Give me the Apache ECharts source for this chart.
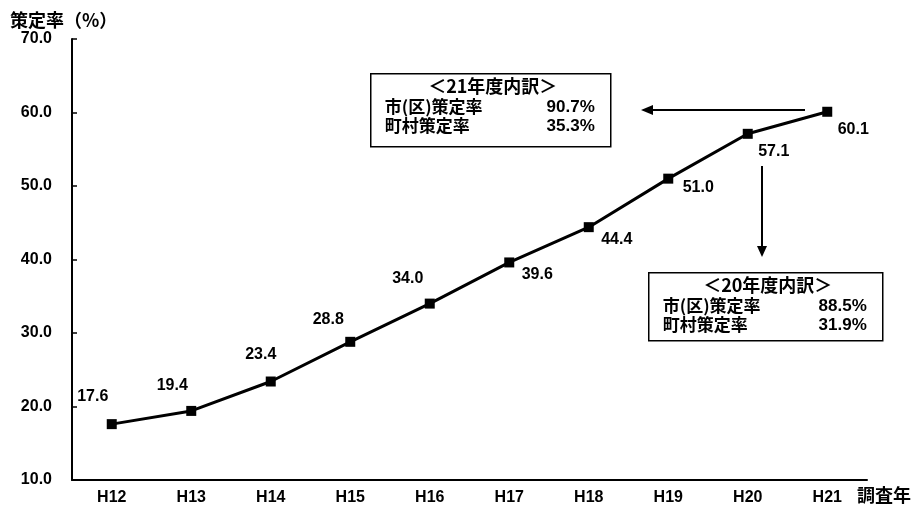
<!DOCTYPE html>
<html><head><meta charset="utf-8">
<script src="https://cdn.jsdelivr.net/npm/echarts@6/dist/echarts.min.js"></script>
<style>html,body{margin:0;padding:0;background:#fff}#c{width:918px;height:515px}</style>
</head><body><div id="c"></div>
<script>
const categories = ['H12','H13','H14','H15','H16','H17','H18','H19','H20','H21'];
const rates = [17.6, 19.4, 23.4, 28.8, 34.0, 39.6, 44.4, 51.0, 57.1, 60.1];
const yTicks = [10, 20, 30, 40, 50, 60, 70];
const box21 = {title:'＜21年度内訳＞', rows:[['市(区)策定率','90.7%'],['町村策定率','35.3%']]};
const box20 = {title:'＜20年度内訳＞', rows:[['市(区)策定率','88.5%'],['町村策定率','31.9%']]};

const FONT = '"Liberation Sans", Arial, "Noto Sans CJK JP", sans-serif';
const JFONT = '"Noto Sans CJK JP", "Liberation Sans", sans-serif';
// label offsets (style only), per point
const labelOffsets = [[-19,-28],[-19,-25],[-10,-27],[-22,-22],[-22,-25],[28,12],[28,12],[30,9],[26,18],[26,18]];

const chart = echarts.init(document.getElementById('c'), null, {renderer:'canvas'});
const data = rates.map((v,i)=>({
  value:v,
  label:{show:true, position:'inside', offset:labelOffsets[i], formatter:(p)=>p.value.toFixed(1)}
}));

function boxGraphic(b, x, y, w, h){
  return {
    type:'group', left:x, top:y,
    children:[
      {type:'rect', shape:{x:0,y:0,width:w,height:h}, style:{fill:'#fff', stroke:'#000', lineWidth:1.5}},
      {type:'text', x:w/2+2, y:3, style:{text:b.title, font:'bold 18px '+JFONT, fill:'#000', align:'center'}},
      {type:'text', x:14, y:24, style:{text:b.rows[0][0], font:'bold 17px '+JFONT, fill:'#000'}},
      {type:'text', x:w-16, y:25, style:{text:b.rows[0][1], font:'bold 17px '+FONT, fill:'#000', align:'right'}},
      {type:'text', x:14, y:43, style:{text:b.rows[1][0], font:'bold 17px '+JFONT, fill:'#000'}},
      {type:'text', x:w-16, y:44, style:{text:b.rows[1][1], font:'bold 17px '+FONT, fill:'#000', align:'right'}}
    ]
  };
}

chart.setOption({
  animation:false,
  backgroundColor:'#fff',
  grid:{left:72, right:51, top:39, bottom:35},
  xAxis:{
    type:'category', data:categories, boundaryGap:true,
    axisLine:{lineStyle:{color:'#000', width:2}},
    axisTick:{inside:true, length:5, lineStyle:{color:'#000', width:1.5}},
    axisLabel:{color:'#000', fontFamily:FONT, fontWeight:'bold', fontSize:16, margin:10},
    name:'調査年', nameLocation:'end', nameGap:-10,
    nameTextStyle:{color:'#000', fontFamily:JFONT, fontWeight:'bold', fontSize:18, verticalAlign:'top', padding:[6,0,0,0]}
  },
  yAxis:{
    type:'value', min:yTicks[0], max:yTicks[yTicks.length-1], interval:10,
    splitLine:{show:false},
    axisLine:{show:true, lineStyle:{color:'#000', width:2}},
    axisTick:{show:true, inside:true, length:5, lineStyle:{color:'#000', width:1.5}},
    axisLabel:{color:'#000', fontFamily:FONT, fontWeight:'bold', fontSize:16, margin:20, formatter:(v)=>v.toFixed(1)},
    name:'策定率（%）', nameLocation:'end', nameGap:10,
    nameTextStyle:{color:'#000', fontFamily:JFONT, fontWeight:'bold', fontSize:18, align:'left', padding:[0,0,0,-62]}
  },
  series:[{
    type:'line', data:data,
    symbol:'rect', symbolSize:10, showAllSymbol:true,
    lineStyle:{color:'#000', width:3},
    itemStyle:{color:'#000'},
    label:{color:'#000', fontFamily:FONT, fontWeight:'bold', fontSize:16},
    z:5
  }],
  graphic:[
    boxGraphic(box21, 370, 73, 240, 73),
    boxGraphic(box20, 648, 272, 234, 68),
    {type:'line', shape:{x1:805,y1:110,x2:650,y2:110}, style:{stroke:'#000', lineWidth:2}},
    {type:'polygon', shape:{points:[[641,110],[653,105],[653,115]]}, style:{fill:'#000'}},
    {type:'line', shape:{x1:762,y1:166,x2:762,y2:248}, style:{stroke:'#000', lineWidth:2}},
    {type:'polygon', shape:{points:[[762,257],[757,246],[767,246]]}, style:{fill:'#000'}}
  ]
});
</script></body></html>
